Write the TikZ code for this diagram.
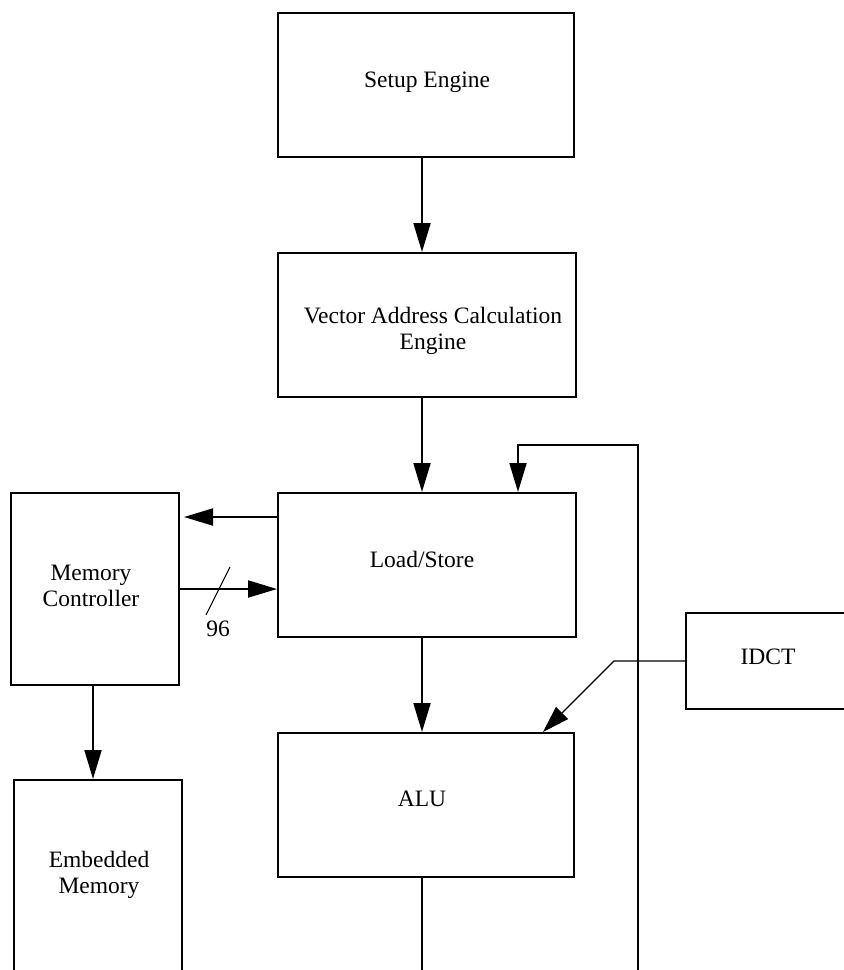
\documentclass[tikz,border=0pt]{standalone}
\usepackage{fontspec}
\setmainfont{Liberation Serif}
\usetikzlibrary{arrows.meta,calc}
\begin{document}
\begin{tikzpicture}[x=1pt,y=-1pt,
  block/.style={draw=black,line width=2pt,rectangle,inner sep=0pt},
  lbl/.style={inner sep=0pt,align=center,font=\fontsize{23.5}{26}\selectfont},
  arr/.style={line width=2pt,-{Triangle[length=29pt,width=17pt]}},
  wire/.style={line width=2pt},
  thinarr/.style={line width=1.1pt,-{Triangle[length=27pt,width=17pt]}}]
\useasboundingbox (0,0) rectangle (844,970);

% blocks
\node[block,minimum width=296pt,minimum height=144pt] (setup) at (426,85) {};
\node[block,minimum width=298pt,minimum height=144pt] (vac) at (427,325) {};
\node[block,minimum width=298pt,minimum height=144pt] (ls) at (427,565) {};
\node[block,minimum width=296pt,minimum height=144pt] (alu) at (426,805) {};
\node[block,minimum width=168pt,minimum height=192pt] (mc) at (95,589) {};
\node[block,minimum width=168pt,minimum height=220pt] (em) at (98,890) {};
\node[block,minimum width=162pt,minimum height=96pt] (idct) at (767,661) {};

% labels
\node[lbl] (tsetup) at (427,82) {Setup Engine};
\node[lbl] (tvac) at (433,331) {Vector Address Calculation\\Engine};
\node[lbl] (tls) at (422,559) {Load/Store};
\node[lbl] (talu) at (422,799) {ALU};
\node[lbl] (tmc) at (91,586) {Memory\\Controller};
\node[lbl] (tem) at (99,875) {Embedded\\Memory};
\node[lbl] (tidct) at (768,657) {IDCT};
\node[lbl] (t96) at (218,629) {96};

% reference columns and rows
\coordinate (xa) at (422,0);
\coordinate (fb) at (518,445);
\coordinate (loopbot) at (638,985);
\coordinate (bend) at (614,661);
\coordinate (tipd) at (543,0);

% main pipeline
\draw[arr] (setup.south -| xa) -- (vac.north -| xa);
\draw[arr] (vac.south -| xa) -- (ls.north -| xa);
\draw[arr] (ls.south -| xa) -- (alu.north -| xa);
\draw[wire] (alu.south -| xa) -- (xa |- loopbot);

% feedback loop into Load/Store
\draw[arr] (loopbot) |- (fb) -- (ls.north -| fb);

% memory controller links
\coordinate (ylsmc) at (0,517);
\coordinate (ymcls) at (0,589);
\draw[arr] (ls.west |- ylsmc) -- ([xshift=4pt]mc.east |- ylsmc);
\draw[arr] (mc.east |- ymcls) -- (ls.west |- ymcls);
\draw[line width=1pt] (206,615) -- (230,567);
\coordinate (xm) at (93,0);
\draw[arr] (mc.south -| xm) -- (em.north -| xm);

% IDCT into ALU
\draw[thinarr] (idct.west |- bend) -- (bend) -- (alu.north -| tipd);
\end{tikzpicture}
\end{document}
